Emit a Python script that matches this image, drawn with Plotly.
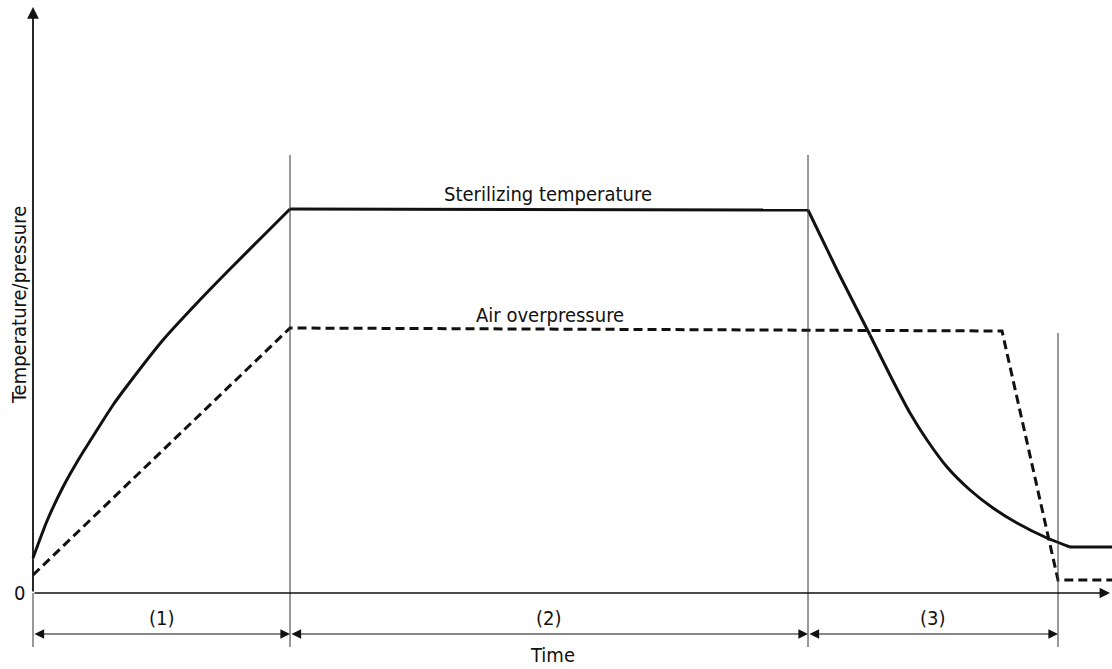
import plotly.graph_objects as go

# ---- data (time units, temperature/pressure units) ----
temp_t = [0, 14, 30, 47, 64, 80, 97, 130, 164, 197, 230, 257,
          775, 805, 837, 860, 877, 894, 914, 937, 960, 984, 1014, 1037, 1079]
temp_v = [35, 72, 106, 136, 163, 188, 211, 253, 290, 324, 357, 384,
          383, 321, 258, 212, 180, 153, 126, 103, 85, 70, 55, 46, 46]

air_t = [0, 257, 969, 1025, 1079]
air_v = [18, 265, 262, 13, 13]

phase_bounds = [0, 257, 775, 1025]
phase_labels = ["(1)", "(2)", "(3)"]
phase_line_tops = [0, 438, 438, 260]

X_RANGE = [-33, 1079]
Y_RANGE = [-76, 593]

FONT = "DejaVu Sans Condensed, Liberation Sans Narrow, DejaVu Sans, sans-serif"
INK = "#111111"
FS = 20

fig = go.Figure()
i_heat_end = temp_t.index(257)
i_cool_start = temp_t.index(775)
i_cool_end = temp_t.index(1037)
segments = [
    (0, i_heat_end, "spline"),
    (i_heat_end, i_cool_start, "linear"),
    (i_cool_start, i_cool_start + 2, "linear"),
    (i_cool_start + 2, i_cool_end, "spline"),
    (i_cool_end, len(temp_t) - 1, "linear"),
]
for a, b, shape in segments:
    fig.add_trace(go.Scatter(x=temp_t[a:b + 1], y=temp_v[a:b + 1], mode="lines",
                             line=dict(color=INK, width=3, shape=shape, smoothing=0.6),
                             hoverinfo="skip"))
fig.add_trace(go.Scatter(x=air_t, y=air_v, mode="lines",
                         line=dict(color=INK, width=3, dash="9px,5px"), hoverinfo="skip"))

shapes = []
dim_y = -41
ext_bottom = -54
for t, top in zip(phase_bounds, phase_line_tops):
    shapes.append(dict(type="line", x0=t, x1=t, y0=ext_bottom, y1=top,
                       line=dict(color="#333333", width=1)))

annotations = []
annotations.append(dict(x=1077, y=0, ax=0, ay=0, xref="x", yref="y", axref="x", ayref="y",
                        showarrow=True, arrowhead=2, arrowsize=1.3, arrowwidth=1.6,
                        arrowcolor=INK, text=""))
annotations.append(dict(x=0, y=586, ax=0, ay=0, xref="x", yref="y", axref="x", ayref="y",
                        showarrow=True, arrowhead=2, arrowsize=1.3, arrowwidth=1.8,
                        arrowcolor=INK, text=""))
for a, b, lab in zip(phase_bounds[:-1], phase_bounds[1:], phase_labels):
    annotations.append(dict(x=b, y=dim_y, ax=a, ay=dim_y, xref="x", yref="y", axref="x", ayref="y",
                            showarrow=True, arrowhead=2, startarrowhead=2, arrowside="end+start",
                            arrowsize=1.6, startarrowsize=1.6, arrowwidth=1.2, arrowcolor=INK,
                            text=""))
    annotations.append(dict(x=(a + b) / 2, y=-25, xref="x", yref="y", text=lab, showarrow=False,
                            font=dict(family=FONT, size=FS, color=INK)))

annotations += [
    dict(x=519, y=-62, xref="x", yref="y", text="Time", showarrow=False,
         font=dict(family=FONT, size=FS, color=INK)),
    dict(x=-14, y=0, xref="x", yref="y", text="0", showarrow=False,
         font=dict(family=FONT, size=FS, color=INK)),
    dict(x=-14, y=288, xref="x", yref="y", text="Temperature/pressure", showarrow=False,
         textangle=-90, font=dict(family=FONT, size=FS, color=INK)),
    dict(x=515, y=399, xref="x", yref="y", text="Sterilizing temperature", showarrow=False,
         font=dict(family=FONT, size=FS, color=INK)),
    dict(x=517, y=278, xref="x", yref="y", text="Air overpressure", showarrow=False,
         font=dict(family=FONT, size=FS, color=INK)),
]

fig.update_layout(
    width=1112, height=669,
    margin=dict(l=0, r=0, t=0, b=0),
    paper_bgcolor="white", plot_bgcolor="white",
    showlegend=False,
    xaxis=dict(range=X_RANGE, visible=False, fixedrange=True),
    yaxis=dict(range=Y_RANGE, visible=False, fixedrange=True),
    shapes=shapes, annotations=annotations,
)

fig.write_html("out.html", config={"displayModeBar": False},
               post_script="document.body.style.margin='0';document.body.style.overflow='hidden';")
